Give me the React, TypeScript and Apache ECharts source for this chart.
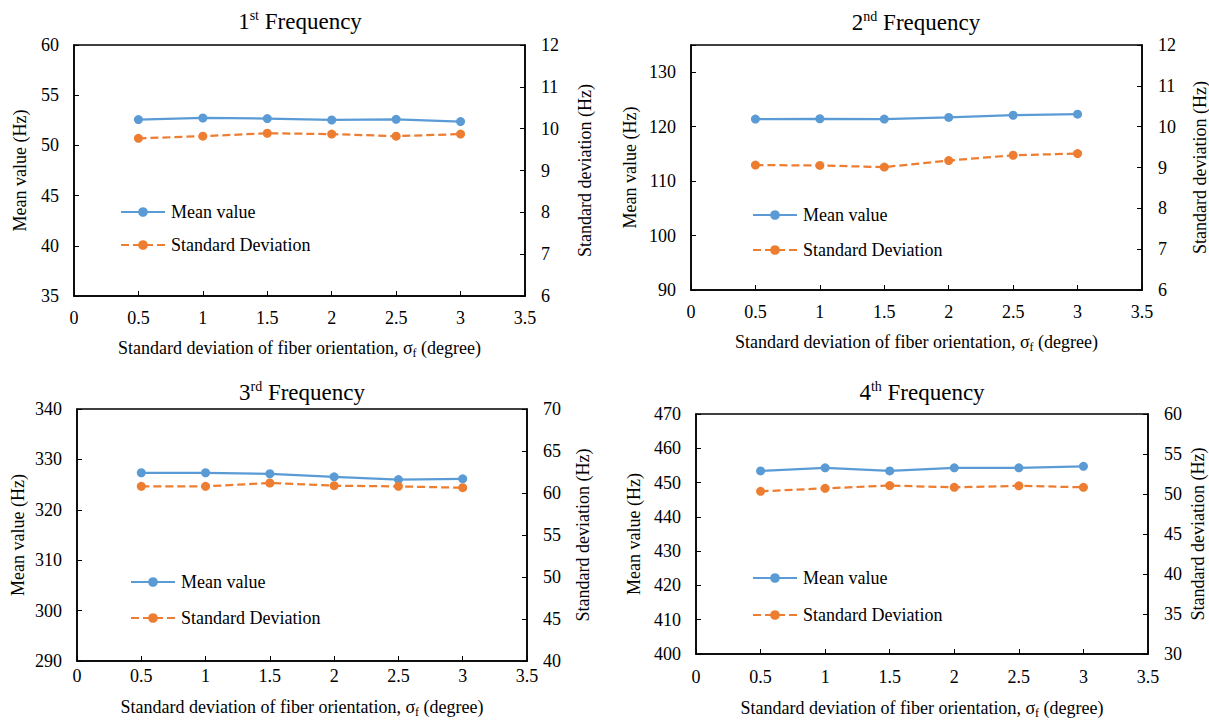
import React, { useEffect, useRef } from 'react';
import * as echarts from 'echarts';

// x values: standard deviation of fiber orientation (degree)
const sigmaF = [0.5, 1, 1.5, 2, 2.5, 3];

// Panel values
const mean1 = [52.57, 52.73, 52.67, 52.53, 52.6, 52.37];
const std1 = [9.77, 9.82, 9.89, 9.87, 9.82, 9.87];
const mean2 = [121.4, 121.45, 121.4, 121.7, 122.1, 122.3];
const std2 = [9.06, 9.05, 9.01, 9.17, 9.3, 9.34];
const mean3 = [327.35, 327.35, 327.15, 326.55, 326.0, 326.15];
const std3 = [60.79, 60.79, 61.19, 60.87, 60.79, 60.63];
const mean4 = [453.4, 454.3, 453.4, 454.3, 454.3, 454.75];
const std4 = [50.33, 50.71, 51.05, 50.84, 51.02, 50.84];

const titleNums = ['1', '2', '3', '4'];
const titleSups = ['st', 'nd', 'rd', 'th'];
const seriesNames = ['Mean value', 'Standard Deviation'];
const meanAxisName = 'Mean value (Hz)';
const stdAxisName = 'Standard deviation (Hz)';

const FONT = "'Liberation Serif', 'Times New Roman', serif";
const BLUE = '#5B9BD5';
const ORANGE = '#ED7D31';

type Panel = {
  mean: number[];
  std: number[];
  grid: { left: number; top: number; width: number; height: number };
  left: [number, number, number];
  right: [number, number, number];
  leftMaxLabel?: number;
  title: { x: number; y: number };
  legend: { x: number; y: number; gap: number };
  xLabelMargin: number;
  xNameGap: number;
  leftNameGap: number;
  rightNameGap: number;
};

const panels: Panel[] = [
  {
    mean: mean1, std: std1,
    grid: { left: 74, top: 45, width: 451, height: 251 },
    left: [35, 60, 5], right: [6, 12, 1],
    title: { x: 300, y: 8 },
    legend: { x: 120, y: 203, gap: 15 },
    xLabelMargin: 13, xNameGap: 41, leftNameGap: 45, rightNameGap: 51,
  },
  {
    mean: mean2, std: std2,
    grid: { left: 691, top: 45, width: 451, height: 245 },
    left: [90, 135, 10], right: [6, 12, 1], leftMaxLabel: 130,
    title: { x: 916, y: 9 },
    legend: { x: 752, y: 206, gap: 17 },
    xLabelMargin: 13, xNameGap: 41, leftNameGap: 52, rightNameGap: 49,
  },
  {
    mean: mean3, std: std3,
    grid: { left: 77, top: 409, width: 450, height: 252 },
    left: [290, 340, 10], right: [40, 70, 5],
    title: { x: 302, y: 379 },
    legend: { x: 130, y: 573, gap: 18 },
    xLabelMargin: 6, xNameGap: 35, leftNameGap: 50, rightNameGap: 47,
  },
  {
    mean: mean4, std: std4,
    grid: { left: 696, top: 414, width: 452, height: 240 },
    left: [400, 470, 10], right: [30, 60, 5],
    title: { x: 922, y: 379 },
    legend: { x: 752, y: 569, gap: 19 },
    xLabelMargin: 14, xNameGap: 43, leftNameGap: 53, rightNameGap: 41,
  },
];

const textBase = { fontFamily: FONT, color: '#000' };

function buildOption() {
  const grid: any[] = [];
  const xAxis: any[] = [];
  const yAxis: any[] = [];
  const series: any[] = [];
  const legend: any[] = [];
  const title: any[] = [];

  panels.forEach((p, i) => {
    grid.push({
      ...p.grid,
      show: true,
      borderColor: '#000',
      borderWidth: 1.5,
      backgroundColor: 'transparent',
      containLabel: false,
      outerBoundsMode: 'none',
    });
    xAxis.push({
      type: 'value',
      gridIndex: i,
      min: 0,
      max: 3.5,
      interval: 0.5,
      position: 'bottom',
      axisLine: { show: true, onZero: false, lineStyle: { color: '#000', width: 1.5 } },
      axisTick: { show: true, inside: true, length: 5, lineStyle: { color: '#000', width: 1 } },
      axisLabel: { ...textBase, fontSize: 18, margin: p.xLabelMargin, showMinLabel: true, showMaxLabel: true },
      splitLine: { show: false },
      name: '{n|Standard deviation of fiber orientation, σ}{s|f}{n| (degree)}',
      nameLocation: 'middle',
      nameGap: p.xNameGap,
      nameTextStyle: {
        ...textBase,
        fontSize: 18,
        rich: {
          n: { ...textBase, fontSize: 18, lineHeight: 22 },
          s: { ...textBase, fontSize: 12, verticalAlign: 'bottom', lineHeight: 12 },
        },
      },
    });
    const maxLbl = p.leftMaxLabel;
    yAxis.push({
      type: 'value',
      gridIndex: i,
      position: 'left',
      min: p.left[0],
      max: p.left[1],
      interval: p.left[2],
      axisLine: { show: true, onZero: false, lineStyle: { color: '#000', width: 1.5 } },
      axisTick: { show: true, inside: true, length: 5, lineStyle: { color: '#000', width: 1 } },
      axisLabel: {
        ...textBase,
        fontSize: 18,
        margin: 15,
        formatter: (v: number) => (maxLbl !== undefined && v > maxLbl ? '' : String(v)),
      },
      splitLine: { show: false },
      name: meanAxisName,
      nameLocation: 'middle',
      nameGap: p.leftNameGap,
      nameTextStyle: { ...textBase, fontSize: 18 },
    });
    yAxis.push({
      type: 'value',
      gridIndex: i,
      position: 'right',
      min: p.right[0],
      max: p.right[1],
      interval: p.right[2],
      axisLine: { show: true, onZero: false, lineStyle: { color: '#000', width: 1.5 } },
      axisTick: { show: true, inside: true, length: 5, lineStyle: { color: '#000', width: 1 } },
      axisLabel: { ...textBase, fontSize: 18, margin: 16 },
      splitLine: { show: false },
      name: stdAxisName,
      nameLocation: 'middle',
      nameGap: p.rightNameGap,
      nameTextStyle: { ...textBase, fontSize: 18 },
    });
    series.push({
      type: 'line',
      name: seriesNames[0],
      xAxisIndex: i,
      yAxisIndex: i * 2,
      data: sigmaF.map((x, k) => [x, p.mean[k]]),
      symbol: 'circle',
      symbolSize: 9,
      color: BLUE,
      lineStyle: { color: BLUE, width: 2.25, type: 'solid' },
      itemStyle: { color: BLUE },
    });
    series.push({
      type: 'line',
      name: seriesNames[1],
      xAxisIndex: i,
      yAxisIndex: i * 2 + 1,
      data: sigmaF.map((x, k) => [x, p.std[k]]),
      symbol: 'circle',
      symbolSize: 9,
      color: ORANGE,
      lineStyle: { color: ORANGE, width: 2.25, type: [8, 4] },
      itemStyle: { color: ORANGE },
    });
    legend.push({
      left: p.legend.x,
      top: p.legend.y,
      orient: 'vertical',
      padding: 0,
      itemGap: p.legend.gap,
      itemWidth: 44,
      itemHeight: 12,
      selectedMode: false,
      textStyle: { ...textBase, fontSize: 18, padding: [0, 0, 0, 1] },
      data: seriesNames,
    });
    title.push({
      left: p.title.x,
      top: p.title.y,
      textAlign: 'center',
      padding: 0,
      text: `{n|${titleNums[i]}}{s|${titleSups[i]}}{n| Frequency}`,
      textStyle: {
        ...textBase,
        fontSize: 23,
        fontWeight: 'normal',
        rich: {
          n: { ...textBase, fontSize: 23, lineHeight: 26 },
          s: { ...textBase, fontSize: 14, verticalAlign: 'top', lineHeight: 14 },
        },
      },
    });
  });

  return {
    animation: false,
    backgroundColor: '#fff',
    textStyle: { fontFamily: FONT },
    title,
    legend,
    grid,
    xAxis,
    yAxis,
    series,
  };
}

export default function App() {
  const ref = useRef<HTMLDivElement>(null);
  useEffect(() => {
    document.body.style.margin = '0';
    if (!ref.current) return;
    const chart = echarts.init(ref.current, undefined, { renderer: 'svg' });
    chart.setOption(buildOption() as any);
    return () => {
      chart.dispose();
    };
  }, []);
  return <div ref={ref} style={{ width: 1209, height: 722 }} />;
}
